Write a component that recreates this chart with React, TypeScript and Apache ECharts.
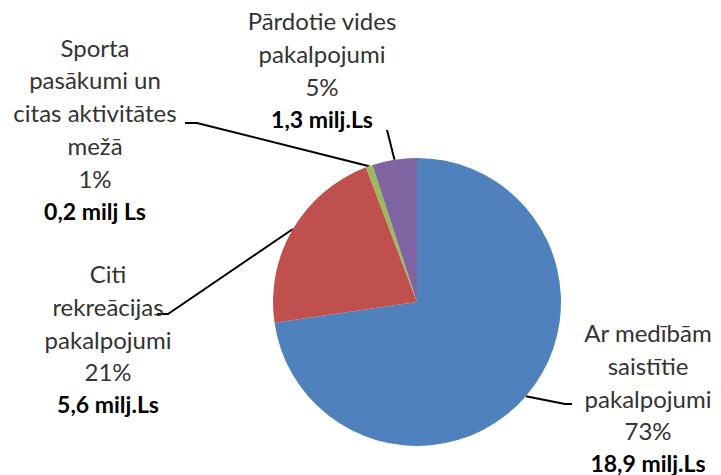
import React, { useEffect, useRef } from "react";
import * as echarts from "echarts";

const categories = [
  "Ar medībām saistītie pakalpojumi",
  "Citi rekreācijas pakalpojumi",
  "Sporta pasākumi un citas aktivitātes mežā",
  "Pārdotie vides pakalpojumi",
];
const nameLines = [
  ["Ar medībām", "saistītie", "pakalpojumi"],
  ["Citi", "rekreācijas", "pakalpojumi"],
  ["Sporta", "pasākumi un", "citas aktivitātes", "mežā"],
  ["Pārdotie vides", "pakalpojumi"],
];
const values = [18.9, 5.6, 0.2, 1.3];
const valueLabels = ["18,9 milj.Ls", "5,6 milj.Ls", "0,2 milj Ls", "1,3 milj.Ls"];
const colors = ["#4F81BD", "#C0504D", "#9BBB59", "#8064A2"];

// label layout: center of text block and label-line bends
const labelPos = [
  { x: 648, y: 398, bend: [[565, 404], [572, 404]] },
  { x: 108, y: 339, bend: [[168, 314], [157, 314]] },
  { x: 95, y: 129, bend: [[197, 123], [185, 123]] },
  { x: 322, y: 70, bend: [[387, 130], [387, 130]] },
];

export default function App() {
  const ref = useRef<HTMLDivElement>(null);
  useEffect(() => {
    if (!ref.current) return;
    const chart = echarts.init(ref.current, undefined, { renderer: "svg" });
    chart.setOption({
      animation: false,
      backgroundColor: "#ffffff",
      series: [
        {
          type: "pie",
          center: [417, 302],
          radius: 144,
          startAngle: 90,
          clockwise: true,
          percentPrecision: 0,
          avoidLabelOverlap: false,
          data: categories.map((c, i) => ({
            name: c,
            value: values[i],
            itemStyle: { color: colors[i] },
          })),
          label: {
            show: true,
            position: "outside",
            fontFamily: "Lato",
            fontSize: 24,
            color: "#333333",
            formatter: (p: any) => {
              const lines = nameLines[p.dataIndex].map((l) => `{n|${l}}`);
              lines.push(`{n|${p.percent}%}`);
              lines.push(`{b|${valueLabels[p.dataIndex]}}`);
              return lines.join("\n");
            },
            rich: {
              n: {
                fontFamily: "Lato",
                fontSize: 24,
                color: "#333333",
                lineHeight: 32.7,
                align: "center",
              },
              b: {
                fontFamily: "Lato",
                fontSize: 23,
                fontWeight: "bold",
                color: "#000000",
                lineHeight: 32.7,
                align: "center",
              },
            },
          },
          labelLine: {
            show: true,
            lineStyle: { color: "#000000", width: 2 },
          },
          labelLayout: (params: any) => {
            const lp = labelPos[params.dataIndex];
            const start = params.labelLinePoints
              ? params.labelLinePoints[0]
              : lp.bend[0];
            return {
              x: lp.x,
              y: lp.y,
              align: "center",
              verticalAlign: "middle",
              labelLinePoints: [start, lp.bend[0], lp.bend[1]],
            };
          },
        },
      ],
    });
    return () => chart.dispose();
  }, []);
  return (
    <div
      ref={ref}
      style={{ position: "fixed", left: 0, top: 0, width: 721, height: 475 }}
    />
  );
}
